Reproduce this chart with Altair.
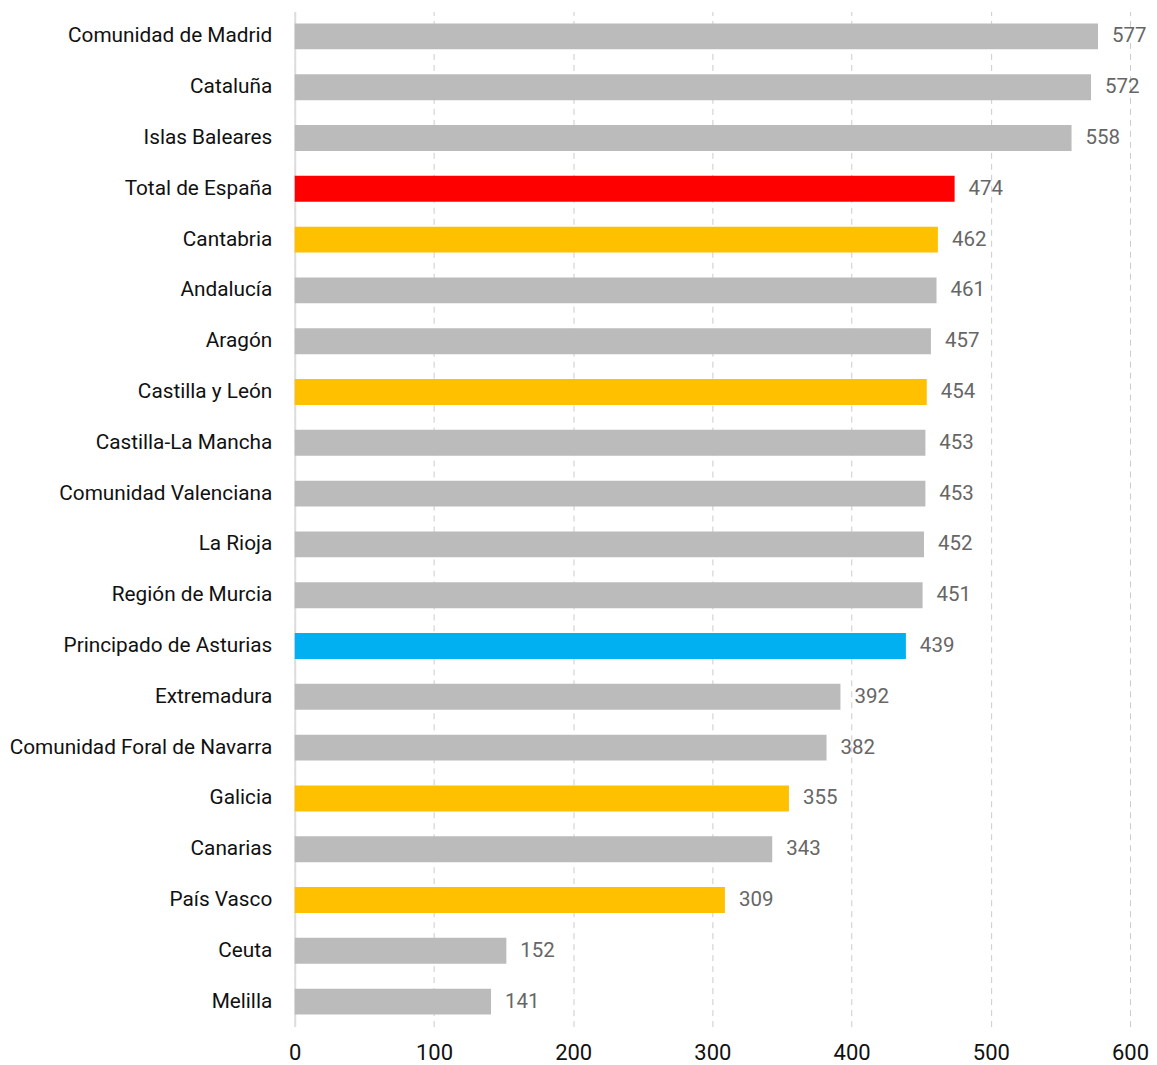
import altair as alt
import pandas as pd

regions = ["Comunidad de Madrid", "Cataluña", "Islas Baleares", "Total de España", "Cantabria",
           "Andalucía", "Aragón", "Castilla y León", "Castilla-La Mancha", "Comunidad Valenciana",
           "La Rioja", "Región de Murcia", "Principado de Asturias", "Extremadura",
           "Comunidad Foral de Navarra", "Galicia", "Canarias", "País Vasco", "Ceuta", "Melilla"]
values = [577, 572, 558, 474, 462, 461, 457, 454, 453, 453, 452, 451, 439, 392, 382, 355, 343, 309, 152, 141]
groups = ["other", "other", "other", "total", "highlight", "other", "other", "highlight", "other", "other",
          "other", "other", "asturias", "other", "other", "highlight", "other", "highlight", "other", "other"]

df = pd.DataFrame({"region": regions, "value": values, "group": groups})

FONT = "Roboto"

color = alt.Color("group:N", legend=None,
                  scale=alt.Scale(domain=["other", "total", "highlight", "asturias"],
                                  range=["#bbbbbb", "#ff0000", "#ffc000", "#00b0f0"]))

y = alt.Y("region:N", sort=regions, title=None,
          scale=alt.Scale(paddingInner=0.49, paddingOuter=0.236),
          axis=alt.Axis(labelFontSize=20.8, labelColor="#111111", labelPadding=23, ticks=False,
                        labelLimit=0, domain=True, domainColor="#dddddd", domainWidth=2, labelFont=FONT))
x = alt.X("value:Q", title=None,
          scale=alt.Scale(domain=[0, 600], nice=False),
          axis=alt.Axis(values=[0, 100, 200, 300, 400, 500, 600], labelFontSize=22, labelColor="#111111",
                        labelPadding=16, ticks=False, domain=False, grid=True, gridDash=[6, 5],
                        gridColor="#cccccc", labelFlush=False, labelFont=FONT))

bars = alt.Chart(df).mark_bar().encode(y=y, x=x, color=color)
text = alt.Chart(df).mark_text(align="left", dx=14, fontSize=20.5, color="#666666", font=FONT).encode(
    y=alt.Y("region:N", sort=regions), x="value:Q", text="value:Q")

chart = (bars + text).properties(
    width=836, height=1016,
    padding={"left": 0, "top": 3, "right": 0, "bottom": 0},
).configure_view(stroke=None)

chart.save("out.html", embed_options={"renderer": "svg", "actions": False})
